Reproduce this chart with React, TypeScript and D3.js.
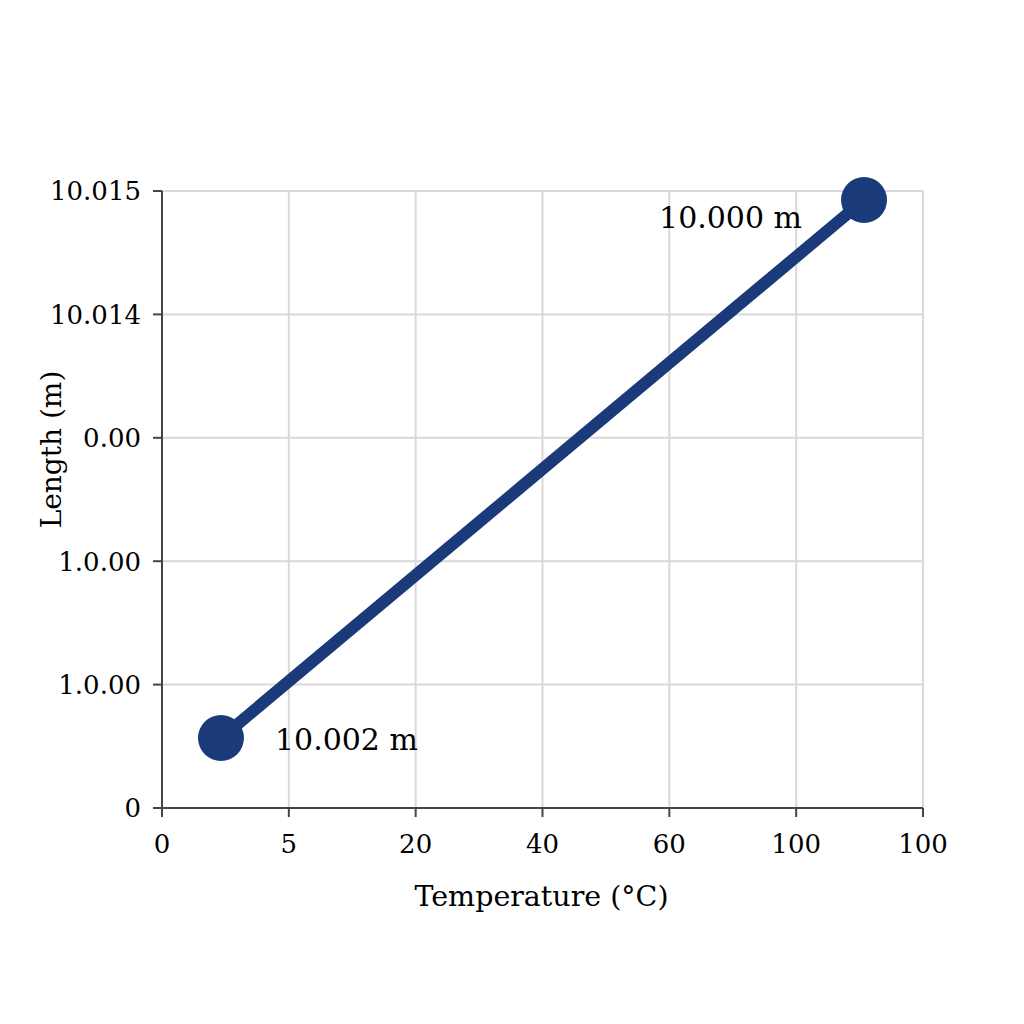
import React from "react";
import * as d3 from "d3";

// tick labels as printed on the chart (evenly spaced positions)
const xTickLabels = ["0", "5", "20", "40", "60", "100", "100"];
const yTickLabels = ["0", "1.0.00", "1.0.00", "0.00", "10.014", "10.015"];

// points, in tick-slot units along each axis
const pointX = [0.465, 5.535];
const pointY = [0.567, 4.927];
const pointLabels = ["10.002 m", "10.000 m"];

const FONT = "'DejaVu Serif', serif";
const NAVY = "#1b3a7a";

const App = () => {
  const width = 1024;
  const height = 1024;
  const margin = { top: 191, right: 101, bottom: 216, left: 162 };
  const innerW = width - margin.left - margin.right;
  const innerH = height - margin.top - margin.bottom;

  const xScale = d3.scaleLinear().domain([0, xTickLabels.length - 1]).range([0, innerW]);
  const yScale = d3.scaleLinear().domain([0, yTickLabels.length - 1]).range([innerH, 0]);

  const pts: [number, number][] = pointX.map((x, i) => [x, pointY[i]]);
  const line = d3.line<[number, number]>()
    .x(d => xScale(d[0]))
    .y(d => yScale(d[1]));

  return (
    <svg width={width} height={height} style={{ position: "absolute", left: 0, top: 0, background: "#fff" }}>
      <g transform={"translate(" + margin.left + "," + margin.top + ")"}>
        {xTickLabels.map((_, i) => (
          <line key={"gx" + i} x1={xScale(i)} x2={xScale(i)} y1={0} y2={innerH} stroke="#d9d9d9" strokeWidth={2} />
        ))}
        {yTickLabels.map((_, i) => (
          <line key={"gy" + i} x1={0} x2={innerW} y1={yScale(i)} y2={yScale(i)} stroke="#d9d9d9" strokeWidth={2} />
        ))}
        <line x1={0} x2={0} y1={0} y2={innerH} stroke="#444" strokeWidth={2} />
        <line x1={0} x2={innerW} y1={innerH} y2={innerH} stroke="#444" strokeWidth={2} />
        {yTickLabels.map((t, i) => (
          <g key={"ty" + i} transform={"translate(0," + yScale(i) + ")"}>
            <line x1={-9} x2={0} stroke="#444" strokeWidth={2} />
            <text x={-21} dy="0.36em" textAnchor="end" fontFamily={FONT} fontSize={26} fill="#000">{t}</text>
          </g>
        ))}
        {xTickLabels.map((t, i) => (
          <g key={"tx" + i} transform={"translate(" + xScale(i) + "," + innerH + ")"}>
            <line y1={0} y2={9} stroke="#444" strokeWidth={2} />
            <text y={45} textAnchor="middle" fontFamily={FONT} fontSize={26} fill="#000">{t}</text>
          </g>
        ))}
        <path d={line(pts) || ""} fill="none" stroke={NAVY} strokeWidth={12} />
        {pts.map((d, i) => (
          <circle key={"p" + i} cx={xScale(d[0])} cy={yScale(d[1])} r={23} fill={NAVY} />
        ))}
        <text x={xScale(pts[0][0]) + 54} y={yScale(pts[0][1]) + 12} fontFamily={FONT} fontSize={30} fill="#000">{pointLabels[0]}</text>
        <text x={xScale(pts[1][0]) - 62} y={yScale(pts[1][1]) + 28} textAnchor="end" fontFamily={FONT} fontSize={30} fill="#000">{pointLabels[1]}</text>
        <text x={innerW / 2 - 1} y={innerH + 98} textAnchor="middle" fontFamily={FONT} fontSize={28.5} fill="#000">Temperature (°C)</text>
        <text transform={"translate(-101," + (innerH / 2 - 50) + ") rotate(-90)"} textAnchor="middle" fontFamily={FONT} fontSize={28} fill="#000">Length (m)</text>
      </g>
    </svg>
  );
};

export default App;
